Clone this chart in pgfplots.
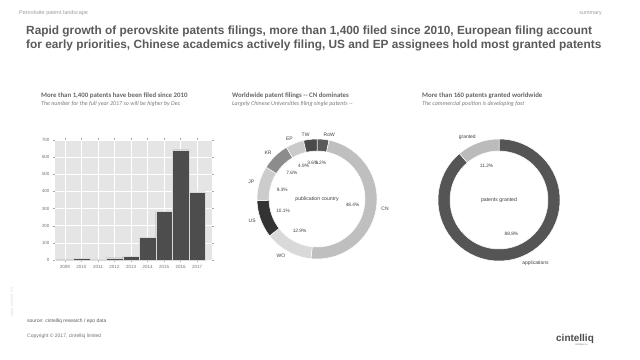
\documentclass[border=0pt]{standalone}
\usepackage{fontspec}
\setmainfont{Liberation Sans}
\newfontfamily\carlito{Carlito}
\usepackage{pgfplots}
\usepackage{pgfplotstable}
\pgfplotsset{compat=1.18}

\definecolor{titlegray}{HTML}{5A5A5A}
\definecolor{ptitle}{HTML}{666666}
\definecolor{psub}{HTML}{7A7A7A}
\definecolor{ggbg}{HTML}{E5E5E5}
\definecolor{barc}{HTML}{4D4D4D}
\definecolor{cRoW}{HTML}{5A5A5A}
\definecolor{cCN}{HTML}{BFBFBF}
\definecolor{cWO}{HTML}{D9D9D9}
\definecolor{cUS}{HTML}{333333}
\definecolor{cJP}{HTML}{CCCCCC}
\definecolor{cKR}{HTML}{8C8C8C}
\definecolor{cEP}{HTML}{CACACA}
\definecolor{cTW}{HTML}{4A4A4A}
\definecolor{cApp}{HTML}{555555}
\definecolor{cGr}{HTML}{BBBBBB}

\pgfplotstableread{
year count
2009 1
2010 8
2011 5
2012 13
2013 21
2014 134
2015 284
2016 642
2017 397
}\filings

\pgfplotstableread[col sep=comma]{
label,value,col
RoW,3.2,cRoW
CN,48.4,cCN
WO,12.9,cWO
US,10.1,cUS
JP,9.3,cJP
KR,7.6,cKR
EP,4.9,cEP
TW,3.6,cTW
}\countries

\pgfplotstableread[col sep=comma]{
label,value,col
applications,88.8,cApp
granted,11.2,cGr
}\grantedtab

\tikzset{
  pct/.style={font=\fontsize{4.8}{6}\selectfont, text=black!75, inner sep=0pt},
  nm/.style={font=\fontsize{5}{6}\selectfont, text=black!75, inner sep=0pt},
}

% #1 table, #2 outer radius, #3 inner radius, #4 pct radius, #5 name radius
\newcommand\donut[5]{%
  \pgfplotstablegetrowsof{#1}%
  \pgfmathtruncatemacro\lastrow{\pgfplotsretval-1}%
  \def\cum{0}%
  \pgfplotsforeachungrouped \rowi in {0,...,\lastrow}{%
    \pgfplotstablegetelem{\rowi}{value}\of#1\let\sliceval\pgfplotsretval
    \pgfplotstablegetelem{\rowi}{col}\of#1\let\slicecol\pgfplotsretval
    \pgfplotstablegetelem{\rowi}{label}\of#1\let\slicelab\pgfplotsretval
    \pgfmathsetmacro\aS{90-3.6*\cum}%
    \pgfmathsetmacro\aE{90-3.6*(\cum+\sliceval)}%
    \pgfmathsetmacro\aM{90-3.6*(\cum+\sliceval/2)}%
    \pgfmathsetmacro\cum{\cum+\sliceval}%
    \pgfmathsetmacro\thick{#2-#3}%
    \pgfmathparse{cos(\aM)>=0}%
    \ifdim\pgfmathresult pt>0.5pt \def\anc{west}\else\def\anc{east}\fi
    \edef\temp{%
      \noexpand\fill[\slicecol, draw=white, line width=0.5bp] (axis cs:0,0) ++(\aS:#2bp) arc[start angle=\aS, end angle=\aE, radius=#2bp] -- ++(\aE:-\thick bp) arc[start angle=\aE, end angle=\aS, radius=#3bp] -- cycle;
      \noexpand\path (axis cs:0,0) ++(\aM:#4bp) node[pct] {\sliceval\noexpand\%};
      \noexpand\path (axis cs:0,0) ++(\aM:#5bp) node[nm, anchor=\anc] {\slicelab};
    }\temp
  }%
}

\begin{document}
\begin{tikzpicture}
\useasboundingbox[fill=white] (0,0) rectangle (640bp,-360bp);

\begin{scope}[x=1bp,y=-1bp]
  % header
  \node[anchor=base west, inner sep=0, font=\fontsize{5.5}{6}\selectfont, text=black!38] at (19,14) {Perovksite patent landscape};
  \node[anchor=base east, inner sep=0, font=\fontsize{5.5}{6}\selectfont, text=black!38] at (602,14) {summary};
  \node[anchor=base west, inner sep=0, font=\fontsize{11.9}{13}\selectfont\bfseries, text=titlegray] at (26,34) {Rapid growth of perovskite patents filings, more than 1,400 filed since 2010, European filing account};
  \node[anchor=base west, inner sep=0, font=\fontsize{11.9}{13}\selectfont\bfseries, text=titlegray] at (26,48.5) {for early priorities, Chinese academics actively filing, US and EP assignees hold most granted patents};
  % panel titles
  \node[anchor=base west, inner sep=0, font=\carlito\bfseries\fontsize{6.85}{8}\selectfont, text=ptitle] at (41,97) {More than 1,400 patents have been filed since 2010};
  \node[anchor=base west, inner sep=0, font=\carlito\itshape\fontsize{6}{7}\selectfont, text=psub] at (41,105.5) {The number for the full year 2017 so will be higher by Dec};
  \node[anchor=base west, inner sep=0, font=\carlito\bfseries\fontsize{6.85}{8}\selectfont, text=ptitle] at (232,97) {Worldwide patent filings -- CN dominates};
  \node[anchor=base west, inner sep=0, font=\carlito\itshape\fontsize{6}{7}\selectfont, text=psub] at (232,105.5) {Largely Chinese Universities filing single patents --};
  \node[anchor=base west, inner sep=0, font=\carlito\bfseries\fontsize{6.85}{8}\selectfont, text=ptitle] at (422,97) {More than 160 patents granted worldwide};
  \node[anchor=base west, inner sep=0, font=\carlito\itshape\fontsize{6}{7}\selectfont, text=psub] at (422,105.5) {The commercial position is developing fast};
  % footer
  \node[anchor=center, rotate=90, inner sep=0, font=\fontsize{4}{5}\selectfont, text=black!12] at (12,302) {input release 3.0};
  \node[anchor=base west, inner sep=0, font=\fontsize{5}{6}\selectfont, text=black!65] at (27,322.5) {source: cintelliq research / epo data};
  \node[anchor=base west, inner sep=0, font=\fontsize{5}{6}\selectfont, text=black!55] at (27,337) {Copyright \textcopyright{} 2017, cintelliq limited};
  \node[anchor=base west, inner sep=0, font=\fontsize{10}{11}\selectfont\bfseries, text=black!70] at (556,341) {cintelliq};
  \node[anchor=base west, inner sep=0, font=\fontsize{2.5}{3}\selectfont, text=black!50] at (575,345.5) {intelligence};
\end{scope}

% bar chart
\begin{axis}[
  at={(55bp,-260bp)}, anchor=south west, scale only axis,
  width=157bp, height=120bp,
  xmin=2008.4, xmax=2017.9, ymin=0, ymax=700,
  ybar, bar width=1,
  axis background/.style={fill=ggbg},
  axis line style={draw=none},
  grid=major, major grid style={white, line width=0.6bp},
  xtick={2009,...,2017}, ytick={0,100,...,700},
  tick style={black!35, line width=0.4bp}, major tick length=2bp,
  tick align=outside,
  ticklabel style={font=\fontsize{4.5}{5}\selectfont, text=black!55},
  x tick label style={/pgf/number format/1000 sep={}},
  /pgf/number format/assume math mode=true,
]
\addplot[fill=barc, draw=white!85!black, line width=0.4bp] table[x=year,y=count]{\filings};
\end{axis}

% donut: countries
\begin{axis}[
  at={(317bp,-199bp)}, anchor=origin, scale only axis,
  width=160bp, height=160bp, xmin=-80, xmax=80, ymin=-80, ymax=80,
  hide axis, clip=false,
]
\addplot[draw=none] coordinates {(0,0)};
\donut{\countries}{60}{48}{36}{65}
\node[font=\fontsize{5.2}{6}\selectfont, text=black!75] at (axis cs:0,0) {publication country};
\end{axis}

% donut: granted
\begin{axis}[
  at={(499bp,-200bp)}, anchor=origin, scale only axis,
  width=160bp, height=160bp, xmin=-80, xmax=80, ymin=-80, ymax=80,
  hide axis, clip=false,
]
\addplot[draw=none] coordinates {(0,0)};
\donut{\grantedtab}{61}{49}{36}{67}
\node[font=\fontsize{5.2}{6}\selectfont, text=black!75] at (axis cs:0,0) {patents granted};
\end{axis}
\end{tikzpicture}
\end{document}
